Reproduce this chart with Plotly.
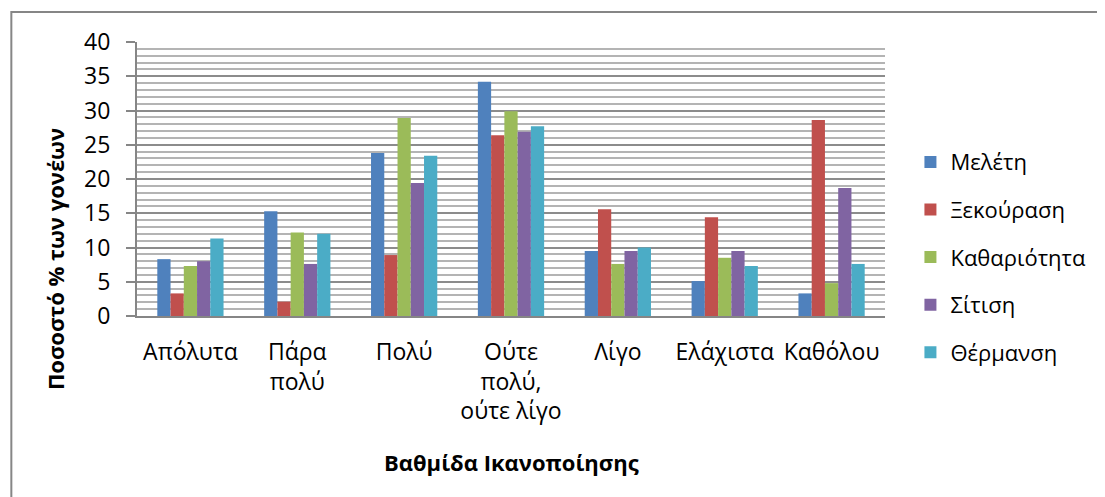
import plotly.graph_objects as go

# categories (x axis)
categories = ["Απόλυτα", "Πάρα<br>πολύ", "Πολύ", "Ούτε<br>πολύ,<br>ούτε λίγο",
              "Λίγο", "Ελάχιστα", "Καθόλου"]

# % of parents per series
meleti = [8.3, 15.3, 23.8, 34.2, 9.5, 5.1, 3.3]
xekourasi = [3.3, 2.1, 8.9, 26.4, 15.6, 14.4, 28.6]
katharioteta = [7.3, 12.2, 28.9, 29.9, 7.6, 8.5, 4.8]
sitisi = [8.0, 7.6, 19.4, 26.9, 9.5, 9.5, 18.7]
thermansi = [11.3, 12.0, 23.4, 27.7, 10.0, 7.3, 7.6]

series_names = ["Μελέτη", "Ξεκούραση", "Καθαριότητα", "Σίτιση", "Θέρμανση"]
series_vals = [meleti, xekourasi, katharioteta, sitisi, thermansi]
colors = ["#4F81BD", "#C0504D", "#9BBB59", "#8064A2", "#4BACC6"]

font_name = "Open Sans, Noto Sans, sans-serif"

fig = go.Figure()
for i in range(0, len(series_names)):
    fig.add_trace(go.Bar(x=categories, y=series_vals[i], name=series_names[i],
                         marker=dict(color=colors[i], line=dict(width=0)),
                         legendgroup=series_names[i]))

# outer chart frame
fig.add_shape(type="rect", xref="paper", yref="paper",
              x0=-0.168, x1=1.4, y0=-0.8, y1=1.1095,
              line=dict(color="#868686", width=2), layer="below")

# axis titles (placed like the original, y title sits low)
fig.add_annotation(text="<b>Ποσοστό % των γονέων</b>", textangle=-90,
                   xref="paper", yref="paper", x=-0.1096, y=0.208,
                   xanchor="center", yanchor="middle",
                   showarrow=False, font=dict(size=22))
fig.add_annotation(text="<b>Βαθμίδα Ικανοποίησης</b>",
                   xref="paper", yref="paper", x=0.5, y=-0.533,
                   xanchor="center", yanchor="middle",
                   showarrow=False, font=dict(size=22))

# page body has an 8px margin, so margins are shifted by 8
fig.update_layout(
    width=1105, height=497,
    margin=dict(l=129, r=228, t=34, b=189),
    paper_bgcolor="white", plot_bgcolor="white",
    barmode="group", bargap=0.38, bargroupgap=0,
    font=dict(family=font_name, size=22, color="black"),
    legend=dict(x=1.034, y=0.215, xanchor="left", yanchor="middle",
                font=dict(size=22), tracegroupgap=16, itemwidth=30),
    showlegend=True,
)
fig.update_xaxes(
    showline=True, linecolor="#868686", linewidth=2,
    ticks="", showgrid=False,
    tickfont=dict(size=23), ticklabelstandoff=14,
)
fig.update_yaxes(
    range=[0, 40], dtick=5,
    showline=True, linecolor="#868686", linewidth=2,
    ticks="outside", ticklen=9, tickcolor="#868686", tickwidth=2,
    showgrid=True, gridcolor="#8c8c8c", gridwidth=2,
    minor=dict(dtick=1, showgrid=True, gridcolor="#b4b4b4", gridwidth=2, ticks=""),
    zeroline=False,
    tickfont=dict(size=23), ticklabelstandoff=11,
)

fig.write_html("out.html")
